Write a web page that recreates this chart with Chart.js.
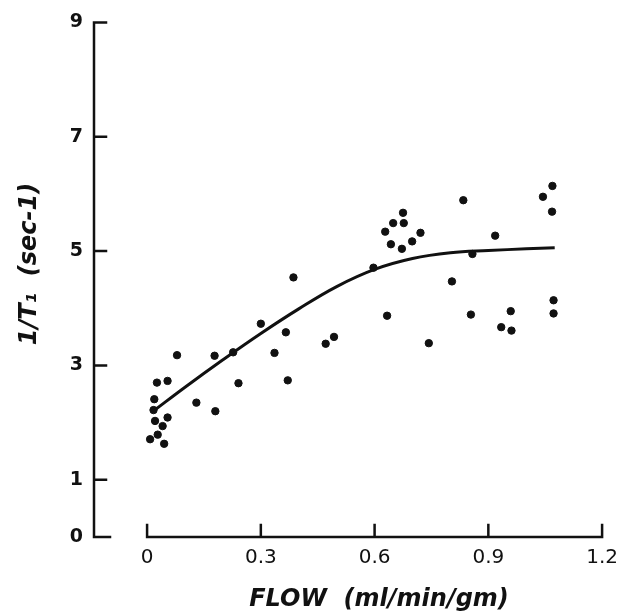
<!DOCTYPE html>
<html>
<head>
<meta charset="utf-8">
<script src="https://cdn.jsdelivr.net/npm/chart.js@4.4.1/dist/chart.umd.min.js"></script>
<style>
  body { margin: 0; background: #fff; }
  canvas { display: block; }
</style>
</head>
<body>
<canvas id="mycanvas" width="627" height="614"></canvas>
<script>
// measured points: flow (ml/min/gm) and 1/T1 (sec-1)
var flowPts = [0.079, 0.178, 0.227, 0.300, 0.366, 0.336, 0.471, 0.026, 0.054, 0.241,
  0.371, 0.019, 0.130, 0.180, 0.017, 0.021, 0.054, 0.041, 0.028, 0.008,
  0.045, 0.493, 0.386, 0.633, 0.743, 0.854, 0.934, 0.959, 0.961, 1.072,
  1.072, 1.069, 1.044, 1.068, 0.834, 0.918, 0.858, 0.804, 0.597, 0.675,
  0.649, 0.677, 0.628, 0.721, 0.643, 0.672, 0.699];
var rateLPts = [3.18, 3.17, 3.23, 3.73, 3.58, 3.22, 3.38, 2.70, 2.73, 2.69,
  2.74, 2.41, 2.35, 2.20, 2.22, 2.03, 2.09, 1.94, 1.79, 1.71,
  1.63, 3.50, 4.54, 3.87, 3.39, 3.89, 3.67, 3.95, 3.61, 3.91,
  4.14, 6.14, 5.95, 5.69, 5.89, 5.27, 4.95, 4.47, 4.71, 5.67,
  5.49, 5.49, 5.34, 5.32, 5.12, 5.04, 5.17];

// fitted curve
var fitFlow = [0.02, 0.1, 0.2, 0.3, 0.4, 0.5, 0.6, 0.7, 0.8, 0.9, 1.0, 1.075];
var fitRate = [2.22, 2.62, 3.1, 3.56, 3.99, 4.38, 4.68, 4.87, 4.97, 5.01, 5.04, 5.06];

var xTicks = [0, 0.3, 0.6, 0.9, 1.2];
var yTicks = [0, 1, 3, 5, 7, 9];

var ink = "#111";

var scatterData = [];
for (var i in flowPts) {
  scatterData.push({x: flowPts[i], y: rateLPts[i]});
}
var fitData = [];
for (var j in fitFlow) {
  fitData.push({x: fitFlow[j], y: fitRate[j]});
}

// axes drawn by hand: separate x and y lines with inward ticks
var axesPlugin = {
  id: 'axesPlugin',
  afterDraw: function(chart) {
    var c = chart.ctx;
    var xs = chart.scales.x, ys = chart.scales.y;
    var x0 = xs.getPixelForValue(0), x1 = xs.getPixelForValue(1.2);
    var yb = ys.getPixelForValue(0), yt = ys.getPixelForValue(9);
    var ax = xs.left;
    c.save();
    c.strokeStyle = ink;
    c.lineWidth = 2.5;
    c.lineCap = 'square';
    c.beginPath();
    c.moveTo(ax, yt); c.lineTo(ax, yb);
    yTicks.forEach(function(v) {
      var p = ys.getPixelForValue(v);
      c.moveTo(ax, p); c.lineTo(ax + (v === 0 ? 16 : 12), p);
    });
    c.moveTo(x0, yb); c.lineTo(x1, yb);
    xTicks.forEach(function(v) {
      var p = xs.getPixelForValue(v);
      c.moveTo(p, yb); c.lineTo(p, yb - 12);
    });
    c.stroke();

    // axis titles
    c.fillStyle = ink;
    c.font = 'italic bold 24px "DejaVu Sans"';
    c.textAlign = 'center';
    c.textBaseline = 'middle';
    c.fillText('FLOW  (ml/min/gm)', 379, 600);
    c.translate(30, 264);
    c.rotate(-Math.PI / 2);
    c.fillText('1/T\u2081  (sec-1)', 0, 0);
    c.restore();
  }
};

var ctx = document.getElementById('mycanvas');
var chart = new Chart(ctx, {
  type: 'scatter',
  data: {
    datasets: [
      {
        label: 'data',
        data: scatterData,
        backgroundColor: ink,
        borderColor: ink,
        pointRadius: 3.7,
        pointHoverRadius: 3.7,
        showLine: false
      },
      {
        label: 'fit',
        data: fitData,
        showLine: true,
        borderColor: ink,
        borderWidth: 3,
        pointRadius: 0,
        fill: false,
        tension: 0.4
      }
    ]
  },
  options: {
    responsive: false,
    animation: false,
    layout: { padding: { left: 0, top: 19, right: 17, bottom: 0 } },
    plugins: { legend: { display: false }, tooltip: { enabled: false } },
    scales: {
      x: {
        type: 'linear',
        min: -0.14,
        max: 1.2,
        afterBuildTicks: function(s) { s.ticks = xTicks.map(function(v) { return {value: v}; }); },
        afterFit: function(s) { s.height = 77; },
        grid: { display: false, drawTicks: false },
        border: { display: false },
        ticks: {
          padding: 9,
          color: ink,
          maxRotation: 0,
          font: { family: 'DejaVu Sans', size: 20 },
          callback: function(v) { return v === 0 ? '0' : v.toFixed(1); }
        }
      },
      y: {
        type: 'linear',
        min: 0,
        max: 9,
        afterBuildTicks: function(s) { s.ticks = yTicks.map(function(v) { return {value: v}; }); },
        afterFit: function(s) { s.width = 94; },
        grid: { display: false, drawTicks: false },
        border: { display: false },
        ticks: {
          padding: 11,
          color: ink,
          font: { family: 'DejaVu Sans', size: 19, weight: 'bold' }
        }
      }
    }
  },
  plugins: [axesPlugin]
});
</script>
</body>
</html>
